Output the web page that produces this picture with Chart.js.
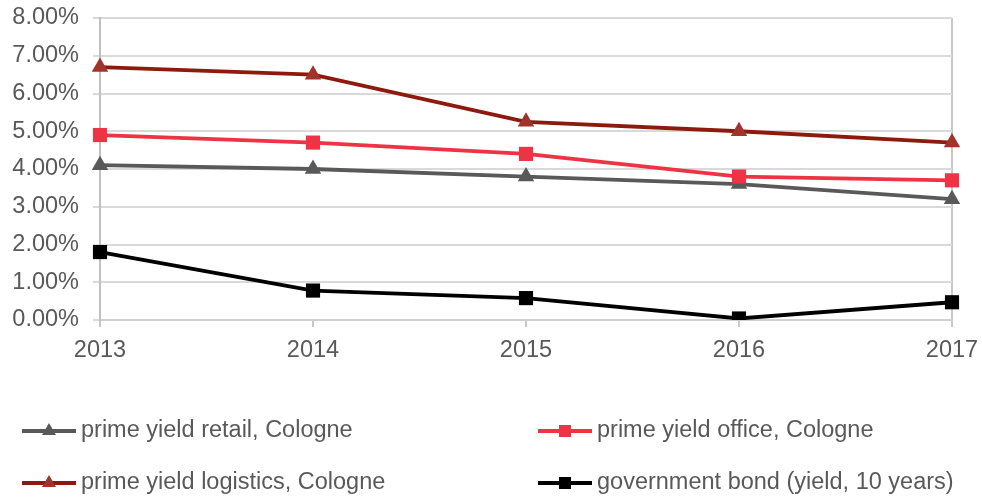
<!DOCTYPE html>
<html>
<head>
<meta charset="utf-8">
<script src="https://cdn.jsdelivr.net/npm/chart.js@4/dist/chart.umd.min.js"></script>
<style>
  html, body { margin: 0; padding: 0; background: #fff; }
  #wrap { width: 982px; height: 497px; }
</style>
</head>
<body>
<div id="wrap"><canvas id="c" width="982" height="497"></canvas></div>
<script>
// Years on the x axis
const years = ['2013', '2014', '2015', '2016', '2017'];

// Yields in percent
const retailYield    = [4.1, 4.0, 3.8, 3.6, 3.2];
const officeYield    = [4.9, 4.7, 4.4, 3.8, 3.7];
const logisticsYield = [6.7, 6.5, 5.25, 5.0, 4.7];
const bondYield      = [1.8, 0.78, 0.58, 0.04, 0.47];

const seriesNames = [
  'prime yield retail, Cologne',
  'prime yield office, Cologne',
  'prime yield logistics, Cologne',
  'government bond (yield, 10 years)'
];

const FONT = { family: '"Liberation Sans", Arial, sans-serif', size: 23.5 };
const TEXT = '#595959';

// Two-column legend drawn under the plot
const gridLegend = {
  id: 'gridLegend',
  afterDraw(chart) {
    const ctx = chart.ctx;
    const cols = [22, 538];
    const rows = [431, 483];
    chart.data.datasets.forEach((ds, i) => {
      const x0 = cols[i % 2];
      const y = rows[Math.floor(i / 2)];
      ctx.save();
      ctx.strokeStyle = ds.borderColor;
      ctx.lineWidth = ds.borderWidth;
      ctx.beginPath();
      ctx.moveTo(x0, y);
      ctx.lineTo(x0 + 54, y);
      ctx.stroke();
      ctx.fillStyle = ds.pointBackgroundColor;
      Chart.helpers.drawPoint(ctx, {
        pointStyle: ds.pointStyle,
        radius: ds.pointRadius * 0.85,
        borderWidth: 0
      }, x0 + 27, y);
      ctx.fillStyle = TEXT;
      ctx.font = FONT.size + 'px ' + FONT.family;
      ctx.textAlign = 'left';
      ctx.textBaseline = 'middle';
      ctx.fillText(ds.label, x0 + 59, y);
      ctx.restore();
    });
  }
};

function series(label, data, line, point, style, radius, order) {
  return {
    label, data, order,
    borderColor: line,
    backgroundColor: point,
    pointBackgroundColor: point,
    pointBorderColor: point,
    pointBorderWidth: 0,
    borderWidth: 3.8,
    pointStyle: style,
    pointRadius: radius,
    pointHoverRadius: radius,
    tension: 0
  };
}

new Chart(document.getElementById('c'), {
  type: 'line',
  data: {
    labels: years,
    datasets: [
      series(seriesNames[0], retailYield, '#595959', '#595959', 'triangle', 9.5, 4),
      series(seriesNames[1], officeYield, '#ee3344', '#ee3344', 'rect', 10, 3),
      series(seriesNames[2], logisticsYield, '#8e1a0e', '#a0332a', 'triangle', 9.5, 2),
      series(seriesNames[3], bondYield, '#000000', '#000000', 'rect', 10, 1)
    ]
  },
  options: {
    responsive: false,
    animation: false,
    events: [],
    layout: { padding: { top: 18, right: 30, bottom: 137, left: 0 } },
    plugins: {
      legend: { display: false },
      tooltip: { enabled: false }
    },
    scales: {
      x: {
        offset: false,
        grid: {
          color: c => (c.index === years.length - 1 ? '#c8c8c8' : 'rgba(0,0,0,0)'),
          lineWidth: 2,
          tickColor: '#c8c8c8',
          tickLength: 7,
          drawOnChartArea: true
        },
        border: { color: '#d0d0d0', width: 2 },
        ticks: { color: TEXT, font: FONT, padding: 9, maxRotation: 0 },
        afterFit: s => { s.height = 40; s.paddingLeft = 0; s.paddingRight = 0; }
      },
      y: {
        min: 0,
        max: 8,
        ticks: {
          stepSize: 1,
          color: TEXT,
          font: FONT,
          padding: 14,
          callback: v => v.toFixed(2) + '%'
        },
        grid: { color: '#d9d9d9', lineWidth: 2, tickColor: '#d9d9d9', tickLength: 7 },
        border: { color: '#c0c0c0', width: 2 },
        afterFit: s => { s.width = 100; s.paddingTop = 0; s.paddingBottom = 0; }
      }
    }
  },
  plugins: [gridLegend]
});
</script>
</body>
</html>
